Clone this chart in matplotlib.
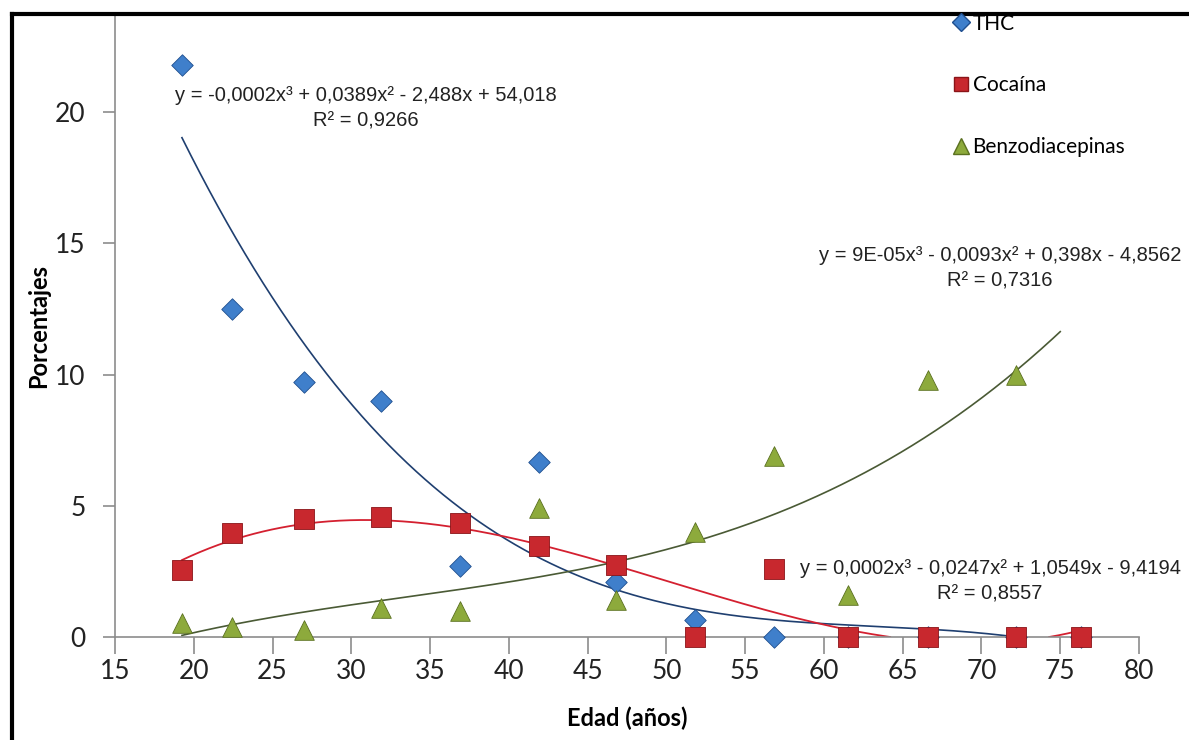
import numpy as np
import matplotlib
matplotlib.use("Agg")
import matplotlib.pyplot as plt
from matplotlib.lines import Line2D

# ---- data ----
edad = [19.25, 22.4, 27.0, 31.9, 36.9, 41.9, 46.8, 51.8, 56.8, 61.55, 66.6, 72.2, 76.3]
thc = [21.8, 12.5, 9.7, 9.0, 2.7, 6.65, 2.1, 0.64, 0.0, 0.0, 0.0, 0.0, 0.0]
cocaina = [2.55, 3.95, 4.5, 4.57, 4.35, 3.47, 2.73, 0.0, 2.6, 0.0, 0.0, 0.0, 0.0]
edad_benzo = [19.25, 22.4, 27.0, 31.9, 36.9, 41.9, 46.8, 51.8, 56.8, 61.55, 66.6, 72.2]
benzo = [0.55, 0.4, 0.25, 1.1, 1.0, 4.9, 1.4, 4.0, 6.9, 1.6, 9.8, 10.0]

series_names = ["THC", "Cocaína", "Benzodiacepinas"]
eq_thc = "y = -0,0002x³ + 0,0389x² - 2,488x + 54,018\nR² = 0,9266"
eq_benzo = "y = 9E-05x³ - 0,0093x² + 0,398x - 4,8562\nR² = 0,7316"
eq_coc = "y = 0,0002x³ - 0,0247x² + 1,0549x - 9,4194\nR² = 0,8557"

xticks = [15, 20, 25, 30, 35, 40, 45, 50, 55, 60, 65, 70, 75, 80]
yticks = [0, 5, 10, 15, 20]

c_blue, c_blue_e = "#3F7FCB", "#1F4F8F"
c_red, c_red_e = "#C8282E", "#8A1418"
c_green, c_green_e = "#8DAA3C", "#5A7020"

FONT = ["Lato", "DejaVu Sans"]

W, H = 1189, 740
fig = plt.figure(figsize=(W / 100, H / 100), dpi=100)
ax = fig.add_axes([115 / W, 1 - 637 / H, (1139 - 115) / W, (637 - 15) / H])
ax.set_xlim(15, 80)
ax.set_ylim(0, 23.7)

def trend(x, y, x0, x1):
    p = np.polyfit(x, y, 3)
    xs = np.linspace(x0, x1, 600)
    ys = np.polyval(p, xs)
    ys = np.where(ys < 0, np.nan, ys)
    return xs, ys

xs, ys = trend(edad, thc, min(edad), max(edad))
ax.plot(xs, ys, color="#1F3F70", lw=1.2, zorder=2)
xs, ys = trend(edad, cocaina, min(edad), max(edad))
ax.plot(xs, ys, color="#D42030", lw=1.3, zorder=2)
xs, ys = trend(edad_benzo, benzo, min(edad_benzo), 75.0)
ax.plot(xs, ys, color="#4A5A35", lw=1.2, zorder=2)

ax.scatter(edad, thc, marker="D", s=120, color=c_blue, edgecolors=c_blue_e, linewidths=0.6, zorder=3, clip_on=False)
ax.scatter(edad_benzo, benzo, marker="^", s=200, color=c_green, edgecolors=c_green_e, linewidths=0.6, zorder=4, clip_on=False)
ax.scatter(edad, cocaina, marker="s", s=190, color=c_red, edgecolors=c_red_e, linewidths=0.6, zorder=5, clip_on=False)

for s in ["top", "right"]:
    ax.spines[s].set_visible(False)
for s in ["left", "bottom"]:
    ax.spines[s].set_color("#8C8C8C")
    ax.spines[s].set_linewidth(1.2)

ax.set_xticks(xticks)
ax.set_yticks(yticks)
ax.tick_params(axis="x", direction="out", length=12, width=1.2, color="#8C8C8C",
               labelsize=19, pad=4, labelcolor="#222222")
ax.tick_params(axis="y", direction="out", length=9, width=1.2, color="#8C8C8C",
               labelsize=19, pad=12, labelcolor="#222222")
for lab in ax.get_xticklabels() + ax.get_yticklabels():
    lab.set_family(FONT)

ax.set_xlabel("Edad (años)", fontsize=17, fontweight="bold", family=FONT, labelpad=16)
ax.set_ylabel("Porcentajes", fontsize=17, fontweight="bold", family=FONT, labelpad=4)

eqfont = dict(fontsize=14.5, family=["Liberation Sans Narrow", "Liberation Sans", "DejaVu Sans"],
              color="#222222", ha="center", va="top", multialignment="center", linespacing=1.45)
fig.text(366 / W, 1 - 86 / H, eq_thc, **eqfont)
fig.text(1000 / W, 1 - 246 / H, eq_benzo, **eqfont)
fig.text(990 / W, 1 - 559 / H, eq_coc, **eqfont)

handles = [
    Line2D([], [], marker="D", ls="none", markersize=9, color=c_blue, markeredgecolor=c_blue_e),
    Line2D([], [], marker="s", ls="none", markersize=10, color=c_red, markeredgecolor=c_red_e),
    Line2D([], [], marker="^", ls="none", markersize=12, color=c_green, markeredgecolor=c_green_e),
]
fig.legend(handles, series_names, loc="upper left", bbox_to_anchor=(934 / W, 1 + 5 / H),
           frameon=False, handlelength=0.8, handletextpad=0.15, labelspacing=2.0,
           prop={"family": FONT, "size": 15})

# figure border (left and top)
fig.add_artist(Line2D([12 / W, 12 / W], [0, 1 - 14 / H], transform=fig.transFigure, color="black", lw=3))
fig.add_artist(Line2D([12 / W, 1], [1 - 14 / H, 1 - 14 / H], transform=fig.transFigure, color="black", lw=3))

fig.savefig("out.png", dpi=100)
